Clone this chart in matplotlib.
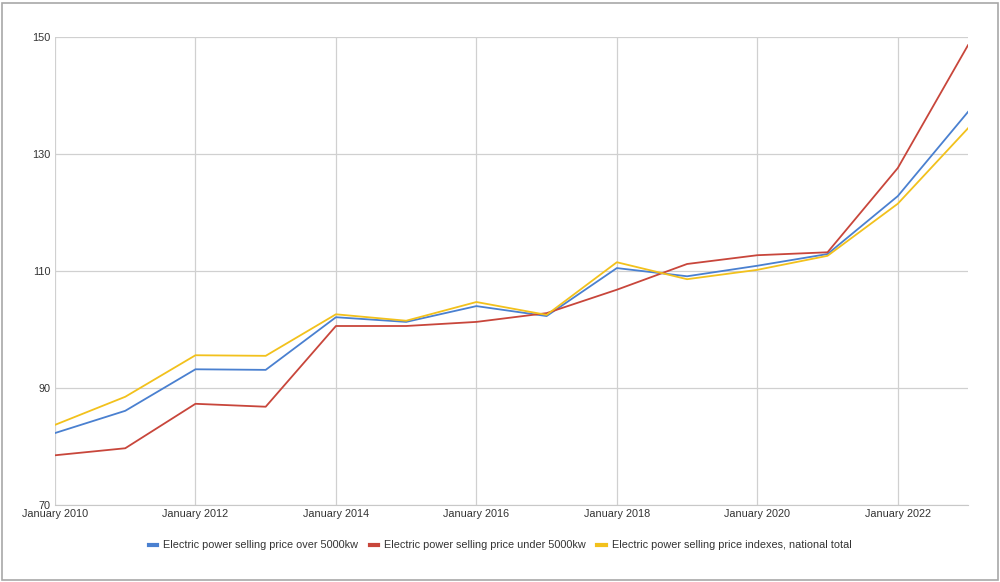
import numpy as np
import matplotlib.pyplot as plt
from matplotlib.patches import Rectangle

plt.rcParams['font.family'] = ['Liberation Sans', 'DejaVu Sans']

# yearly values, January of each year
years = [2010, 2011, 2012, 2013, 2014, 2015, 2016, 2017, 2018, 2019, 2020, 2021, 2022, 2023]
over_5000kw = [82.3, 86.1, 93.2, 93.1, 102.1, 101.3, 104.0, 102.3, 110.5, 109.1, 110.9, 112.9, 122.8, 137.2]
under_5000kw = [78.5, 79.7, 87.3, 86.8, 100.6, 100.6, 101.3, 102.8, 106.8, 111.2, 112.7, 113.2, 127.6, 148.6]
national_total = [83.7, 88.5, 95.6, 95.5, 102.6, 101.5, 104.7, 102.5, 111.5, 108.6, 110.2, 112.6, 121.5, 134.4]

x_ticks = [2010, 2012, 2014, 2016, 2018, 2020, 2022]
y_ticks = [70, 90, 110, 130, 150]

fig = plt.figure(figsize=(10, 5.82), dpi=100)
ax = fig.add_axes([0.055, 0.1323, 0.913, 0.8041])

ax.plot(years, over_5000kw, color='#4a80d0', lw=1.3, label='Electric power selling price over 5000kw')
ax.plot(years, under_5000kw, color='#c8463b', lw=1.3, label='Electric power selling price under 5000kw')
ax.plot(years, national_total, color='#f2c11c', lw=1.3, label='Electric power selling price indexes, national total')

ax.set_xlim(2010, 2023)
ax.set_ylim(70, 150)
ax.set_xticks(x_ticks)
ax.set_xticklabels(['January %d' % y for y in x_ticks])
ax.set_yticks(y_ticks)
ax.grid(True, color='#d0d0d0', lw=0.9)
ax.set_axisbelow(True)
for s in ['top', 'right', 'left']:
    ax.spines[s].set_visible(False)
ax.spines['bottom'].set_color('#c8c8c8')
ax.tick_params(length=0, labelsize=7.8, labelcolor='#333333', pad=3)

leg = fig.legend(loc='center', bbox_to_anchor=(0.5, 0.063), ncol=3, frameon=False,
                 fontsize=7.8, handlelength=0.8, handletextpad=0.5, columnspacing=1.1)
for h in leg.legend_handles:
    h.set_linewidth(3)
for t in leg.get_texts():
    t.set_color('#333333')

# chart frame
fig.patches.append(Rectangle((0.002, 0.003), 0.996, 0.992, transform=fig.transFigure,
                             fill=False, edgecolor='#a8a8a8', lw=1.2))

fig.savefig('out.png', dpi=100)
